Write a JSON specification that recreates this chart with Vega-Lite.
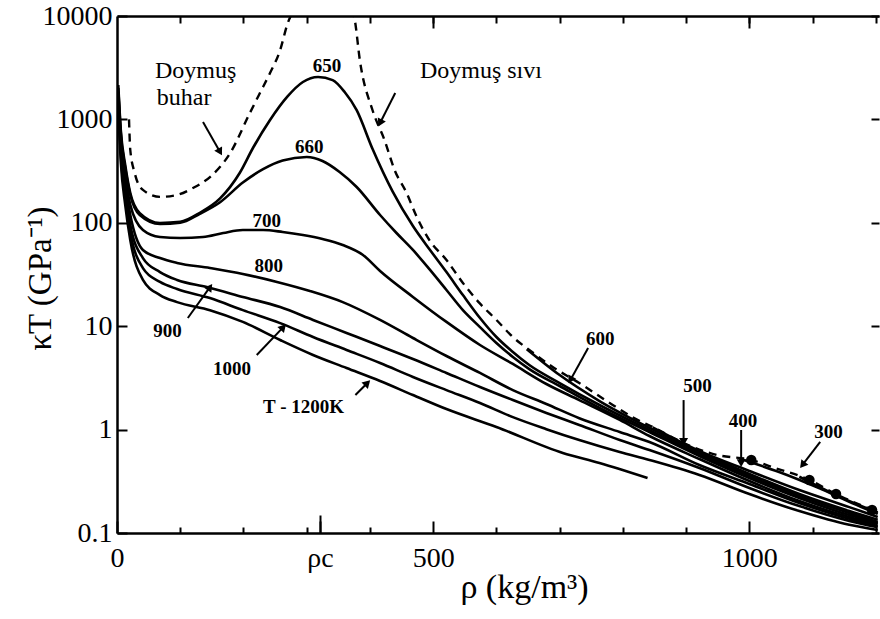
{
  "$schema": "https://vega.github.io/schema/vega-lite/v6.json",
  "width": 762,
  "height": 517,
  "autosize": {"type": "none"},
  "padding": {"left": 117, "top": 16, "right": 1, "bottom": 86},
  "background": "white",
  "config": {
    "view": {"stroke": null},
    "font": "Liberation Serif",
    "axis": {"labelFont": "Liberation Serif", "titleFont": "Liberation Serif", "labelColor": "#000", "titleColor": "#000", "tickColor": "#000", "domainColor": "#000", "grid": false, "labelFontWeight": "normal", "titleFontWeight": "normal", "tickWidth": 2, "domainWidth": 2.5, "labelFlush": false, "labelOverlap": false}
  },
  "datasets": {
    "iso": [
      {"T":"650","r":2,"k":2150},{"T":"650","r":6,"k":790},{"T":"650","r":13,"k":362},{"T":"650","r":21,"k":194},{"T":"650","r":36,"k":124},{"T":"650","r":68,"k":99.5},{"T":"650","r":100,"k":102},{"T":"650","r":131,"k":125},{"T":"650","r":163,"k":172},{"T":"650","r":194,"k":303},{"T":"650","r":215,"k":529},{"T":"650","r":242,"k":987},{"T":"650","r":269,"k":1650},{"T":"650","r":294,"k":2300},{"T":"650","r":318,"k":2570},{"T":"650","r":341,"k":2400},{"T":"650","r":360,"k":1840},{"T":"650","r":379,"k":1230},{"T":"650","r":404,"k":520},{"T":"650","r":436,"k":200},{"T":"650","r":468,"k":93},{"T":"650","r":495,"k":54.6},{"T":"650","r":521,"k":33.4},{"T":"650","r":547,"k":20},{"T":"650","r":574,"k":12},{"T":"650","r":600,"k":7.86},{"T":"650","r":626,"k":5.63},{"T":"650","r":652,"k":4.21},{"T":"650","r":700,"k":2.82},{"T":"650","r":763,"k":1.73},{"T":"650","r":842,"k":0.99},{"T":"650","r":921,"k":0.581},{"T":"650","r":1000,"k":0.356},{"T":"650","r":1079,"k":0.228},{"T":"650","r":1158,"k":0.156},{"T":"650","r":1203,"k":0.128},
      {"T":"660","r":2,"k":2010},{"T":"660","r":6,"k":739},{"T":"660","r":13,"k":339},{"T":"660","r":21,"k":186},{"T":"660","r":36,"k":119},{"T":"660","r":68,"k":97.4},{"T":"660","r":100,"k":100},{"T":"660","r":131,"k":122},{"T":"660","r":163,"k":158},{"T":"660","r":199,"k":245},{"T":"660","r":231,"k":330},{"T":"660","r":262,"k":400},{"T":"660","r":300,"k":433},{"T":"660","r":325,"k":396},{"T":"660","r":352,"k":310},{"T":"660","r":379,"k":222},{"T":"660","r":416,"k":119},{"T":"660","r":442,"k":79.7},{"T":"660","r":468,"k":54.6},{"T":"660","r":495,"k":35},{"T":"660","r":521,"k":22.4},{"T":"660","r":547,"k":14.3},{"T":"660","r":574,"k":9.8},{"T":"660","r":600,"k":6.88},{"T":"660","r":626,"k":5.04},{"T":"660","r":652,"k":3.85},{"T":"660","r":700,"k":2.64},{"T":"660","r":763,"k":1.62},{"T":"660","r":842,"k":0.948},{"T":"660","r":921,"k":0.556},{"T":"660","r":1000,"k":0.34},{"T":"660","r":1079,"k":0.218},{"T":"660","r":1158,"k":0.149},{"T":"660","r":1203,"k":0.125},
      {"T":"700","r":2,"k":1840},{"T":"700","r":6,"k":661},{"T":"700","r":13,"k":290},{"T":"700","r":21,"k":149},{"T":"700","r":41,"k":85.2},{"T":"700","r":68,"k":72.9},{"T":"700","r":100,"k":71.3},{"T":"700","r":136,"k":72.9},{"T":"700","r":168,"k":79.7},{"T":"700","r":199,"k":85.2},{"T":"700","r":231,"k":85.2},{"T":"700","r":262,"k":81.5},{"T":"700","r":294,"k":76.2},{"T":"700","r":325,"k":69.7},{"T":"700","r":357,"k":61},{"T":"700","r":389,"k":48.8},{"T":"700","r":416,"k":34.2},{"T":"700","r":468,"k":19.2},{"T":"700","r":521,"k":11},{"T":"700","r":574,"k":6.58},{"T":"700","r":626,"k":4.31},{"T":"700","r":679,"k":2.76},{"T":"700","r":731,"k":1.93},{"T":"700","r":795,"k":1.24},{"T":"700","r":842,"k":0.867},{"T":"700","r":921,"k":0.519},{"T":"700","r":1000,"k":0.318},{"T":"700","r":1079,"k":0.204},{"T":"700","r":1158,"k":0.143},{"T":"700","r":1203,"k":0.122},
      {"T":"800","r":2,"k":1680},{"T":"800","r":6,"k":565},{"T":"800","r":13,"k":232},{"T":"800","r":21,"k":119},{"T":"800","r":41,"k":54.6},{"T":"800","r":68,"k":45.6},{"T":"800","r":95,"k":40.9},{"T":"800","r":147,"k":36.5},{"T":"800","r":199,"k":32},{"T":"800","r":253,"k":26.8},{"T":"800","r":305,"k":21.9},{"T":"800","r":357,"k":17.1},{"T":"800","r":416,"k":11.5},{"T":"800","r":468,"k":7.69},{"T":"800","r":521,"k":5.15},{"T":"800","r":574,"k":3.53},{"T":"800","r":626,"k":2.41},{"T":"800","r":679,"k":1.77},{"T":"800","r":731,"k":1.29},{"T":"800","r":795,"k":0.948},{"T":"800","r":842,"k":0.759},{"T":"800","r":921,"k":0.455},{"T":"800","r":1000,"k":0.298},{"T":"800","r":1079,"k":0.195},{"T":"800","r":1158,"k":0.137},{"T":"800","r":1203,"k":0.117},
      {"T":"900","r":2,"k":1540},{"T":"900","r":6,"k":506},{"T":"900","r":13,"k":199},{"T":"900","r":21,"k":95.2},{"T":"900","r":41,"k":45.6},{"T":"900","r":68,"k":33.4},{"T":"900","r":95,"k":28},{"T":"900","r":142,"k":23.9},{"T":"900","r":199,"k":19.2},{"T":"900","r":258,"k":15.3},{"T":"900","r":310,"k":11.5},{"T":"900","r":363,"k":8.6},{"T":"900","r":416,"k":6.43},{"T":"900","r":468,"k":4.82},{"T":"900","r":521,"k":3.53},{"T":"900","r":574,"k":2.58},{"T":"900","r":626,"k":1.93},{"T":"900","r":679,"k":1.45},{"T":"900","r":731,"k":1.11},{"T":"900","r":795,"k":0.793},{"T":"900","r":842,"k":0.635},{"T":"900","r":921,"k":0.425},{"T":"900","r":1000,"k":0.272},{"T":"900","r":1079,"k":0.182},{"T":"900","r":1158,"k":0.131},{"T":"900","r":1203,"k":0.114},
      {"T":"1000","r":2,"k":1410},{"T":"1000","r":6,"k":453},{"T":"1000","r":13,"k":174},{"T":"1000","r":21,"k":81.5},{"T":"1000","r":41,"k":36.5},{"T":"1000","r":68,"k":26.8},{"T":"1000","r":95,"k":22.9},{"T":"1000","r":147,"k":18.7},{"T":"1000","r":199,"k":14.3},{"T":"1000","r":258,"k":10.7},{"T":"1000","r":310,"k":7.86},{"T":"1000","r":363,"k":5.89},{"T":"1000","r":416,"k":4.41},{"T":"1000","r":468,"k":3.23},{"T":"1000","r":521,"k":2.41},{"T":"1000","r":574,"k":1.81},{"T":"1000","r":626,"k":1.32},{"T":"1000","r":679,"k":1.01},{"T":"1000","r":731,"k":0.793},{"T":"1000","r":795,"k":0.607},{"T":"1000","r":842,"k":0.508},{"T":"1000","r":921,"k":0.364},{"T":"1000","r":1000,"k":0.238},{"T":"1000","r":1079,"k":0.163},{"T":"1000","r":1158,"k":0.12},{"T":"1000","r":1203,"k":0.107},
      {"T":"1200","r":2,"k":1230},{"T":"1200","r":6,"k":387},{"T":"1200","r":13,"k":149},{"T":"1200","r":21,"k":68.2},{"T":"1200","r":41,"k":28},{"T":"1200","r":68,"k":20},{"T":"1200","r":95,"k":17.1},{"T":"1200","r":147,"k":14.3},{"T":"1200","r":199,"k":11},{"T":"1200","r":258,"k":7.35},{"T":"1200","r":310,"k":5.27},{"T":"1200","r":363,"k":3.94},{"T":"1200","r":416,"k":2.95},{"T":"1200","r":468,"k":2.16},{"T":"1200","r":521,"k":1.58},{"T":"1200","r":600,"k":1.06},{"T":"1200","r":705,"k":0.594},{"T":"1200","r":763,"k":0.475},{"T":"1200","r":839,"k":0.34},
      {"T":"600","r":648,"k":6.0},{"T":"600","r":700,"k":3.37},{"T":"600","r":763,"k":1.89},{"T":"600","r":842,"k":1.04},{"T":"600","r":921,"k":0.607},{"T":"600","r":1000,"k":0.372},{"T":"600","r":1079,"k":0.238},{"T":"600","r":1158,"k":0.163},{"T":"600","r":1203,"k":0.134},
      {"T":"500","r":847,"k":1.05},{"T":"500","r":921,"k":0.621},{"T":"500","r":1000,"k":0.398},{"T":"500","r":1079,"k":0.26},{"T":"500","r":1158,"k":0.178},{"T":"500","r":1203,"k":0.143},
      {"T":"400","r":984,"k":0.525},{"T":"400","r":1047,"k":0.389},{"T":"400","r":1111,"k":0.27},{"T":"400","r":1158,"k":0.2},{"T":"400","r":1203,"k":0.153},
      {"T":"300","r":1079,"k":0.35},{"T":"300","r":1142,"k":0.225},{"T":"300","r":1203,"k":0.158}
    ],
    "sat": [
      {"s":"buhar","r":19,"k":1000},{"s":"buhar","r":21,"k":506},{"s":"buhar","r":28,"k":303},{"s":"buhar","r":41,"k":208},{"s":"buhar","r":68,"k":178},{"s":"buhar","r":95,"k":186},{"s":"buhar","r":120,"k":217},{"s":"buhar","r":147,"k":277},{"s":"buhar","r":179,"k":473},{"s":"buhar","r":210,"k":1150},{"s":"buhar","r":226,"k":1800},{"s":"buhar","r":242,"k":2810},{"s":"buhar","r":258,"k":4690},{"s":"buhar","r":269,"k":8180},{"s":"buhar","r":281,"k":12770},{"s":"buhar","r":300,"k":60000},
      {"s":"sivi","r":360,"k":40000},{"s":"sivi","r":372,"k":11430},{"s":"sivi","r":376,"k":9150},{"s":"sivi","r":384,"k":3750},{"s":"sivi","r":404,"k":1233},{"s":"sivi","r":423,"k":632},{"s":"sivi","r":439,"k":324},{"s":"sivi","r":458,"k":194},{"s":"sivi","r":474,"k":114},{"s":"sivi","r":494,"k":68},{"s":"sivi","r":521,"k":43.7},{"s":"sivi","r":547,"k":26.2},{"s":"sivi","r":573,"k":16.8},{"s":"sivi","r":600,"k":11.5},{"s":"sivi","r":626,"k":7.86},{"s":"sivi","r":652,"k":5.89},{"s":"sivi","r":689,"k":4.03},{"s":"sivi","r":731,"k":2.82},{"s":"sivi","r":784,"k":1.73},{"s":"sivi","r":815,"k":1.32},{"s":"sivi","r":847,"k":1.06},{"s":"sivi","r":910,"k":0.68},{"s":"sivi","r":948,"k":0.57},{"s":"sivi","r":1003,"k":0.508},{"s":"sivi","r":1036,"k":0.434},{"s":"sivi","r":1095,"k":0.326},{"s":"sivi","r":1137,"k":0.238},{"s":"sivi","r":1195,"k":0.167}
    ],
    "dots": [
      {"r":1003,"k":0.508},{"r":1095,"k":0.326},{"r":1137,"k":0.238},{"r":1194,"k":0.167}
    ],
    "names": [
      {"txt":"Doymuş","r":60,"k":2513},{"txt":"buhar","r":63,"k":1378},{"txt":"Doymuş sıvı","r":479,"k":2513}
    ],
    "temps": [
      {"txt":"650","r":332,"k":2873},{"txt":"660","r":304,"k":473},{"txt":"700","r":237,"k":91.1},{"txt":"800","r":240,"k":33.4},{"txt":"900","r":80,"k":7.86},{"txt":"1000","r":182,"k":3.37},{"txt":"T - 1200K","r":295,"k":1.45},{"txt":"600","r":764,"k":6.58},{"txt":"500","r":918,"k":2.31},{"txt":"400","r":990,"k":1.06},{"txt":"300","r":1125,"k":0.829}
    ],
    "arrows": [
      {"r":136,"k":944,"r2":163,"k2":484,"dir":150.5},
      {"r":440,"k":1800,"r2":416,"k2":923,"dir":206.6},
      {"r":112,"k":12.0,"r2":147,"k2":23.9,"dir":35.4},
      {"r":221,"k":5.27,"r2":263,"k2":9.8,"dir":42.9},
      {"r":377,"k":2.16,"r2":396,"k2":2.82,"dir":45},
      {"r":745,"k":6.15,"r2":717,"k2":3.02,"dir":209.4},
      {"r":896,"k":1.93,"r2":896,"k2":0.759,"dir":180},
      {"r":987,"k":0.991,"r2":987,"k2":0.475,"dir":180},
      {"r":1112,"k":0.759,"r2":1084,"k2":0.455,"dir":218}
    ]
  },
  "layer": [
    {
      "data": {"name": "iso"},
      "mark": {"type": "line", "color": "#000", "strokeWidth": 2.6, "interpolate": "monotone", "clip": true},
      "encoding": {
        "x": {"field": "r", "type": "quantitative", "scale": {"type": "linear", "domain": [0, 1205], "nice": false, "zero": false},
          "axis": {"orient": "bottom", "values": [0, 321, 500, 1000], "labelExpr": "datum.value == 321 ? 'ρc' : format(datum.value, 'd')", "tickSize": -12, "labelPadding": 23, "labelFontSize": 28, "labelBaseline": "top", "title": "ρ (kg/m³)", "titleFontSize": 34, "titleX": 407, "titleY": 64, "titleBaseline": "alphabetic", "titleAlign": "center", "titleAnchor": null}},
        "y": {"field": "k", "type": "quantitative", "scale": {"type": "log", "domain": [0.1, 10000], "nice": false},
          "axis": {"orient": "left", "values": [0.1, 1, 10, 100, 1000, 10000], "labelExpr": "datum.value < 1 ? '0.1' : format(datum.value, 'd')", "tickSize": -10, "labelPadding": 15, "labelFontSize": 28, "title": "κT (GPa⁻¹)", "titleFontSize": 33, "titleAngle": -90, "titleX": -67, "titleY": 262, "titleBaseline": "alphabetic", "titleAlign": "center", "titleAnchor": null}},
        "detail": {"field": "T"}
      }
    },
    {
      "data": {"name": "sat"},
      "mark": {"type": "line", "color": "#000", "strokeWidth": 2.4, "strokeDash": [8, 6], "interpolate": "monotone", "clip": true},
      "encoding": {
        "x": {"field": "r", "type": "quantitative", "scale": {"type": "linear", "domain": [0, 1205], "nice": false, "zero": false},
          "axis": {"orient": "bottom", "values": [321], "tickSize": -18, "labels": false, "domain": false, "title": null}},
        "y": {"field": "k", "type": "quantitative", "scale": {"type": "log", "domain": [0.1, 10000], "nice": false},
          "axis": {"orient": "right", "values": [0.1, 1, 10, 100, 1000, 10000], "tickSize": -8, "labels": false, "domain": false, "title": null}},
        "detail": {"field": "s"}
      }
    },
    {
      "data": {"name": "dots"},
      "mark": {"type": "point", "filled": true, "color": "#000", "size": 110, "opacity": 1},
      "encoding": {
        "x": {"field": "r", "type": "quantitative", "scale": {"type": "linear", "domain": [0, 1205], "nice": false, "zero": false},
          "axis": {"orient": "top", "values": [100, 200, 300, 400, 500, 600, 700, 800, 900, 1000, 1100, 1200], "tickSize": -7, "labels": false, "domain": true, "title": null}},
        "y": {"field": "k", "type": "quantitative", "scale": {"type": "log", "domain": [0.1, 10000], "nice": false}, "axis": null}
      }
    },
    {
      "data": {"name": "temps"},
      "mark": {"type": "text", "font": "Liberation Serif", "fontSize": 19, "fontWeight": "bold", "align": "center", "baseline": "alphabetic", "color": "#000"},
      "encoding": {
        "x": {"field": "r", "type": "quantitative", "scale": {"type": "linear", "domain": [0, 1205], "nice": false, "zero": false},
          "axis": {"orient": "bottom", "values": [100, 200, 300, 400, 600, 700, 800, 900, 1100, 1200], "tickSize": -6, "labels": false, "domain": false, "title": null}},
        "y": {"field": "k", "type": "quantitative", "scale": {"type": "log", "domain": [0.1, 10000], "nice": false}, "axis": null},
        "text": {"field": "txt"}
      }
    },
    {
      "data": {"name": "names"},
      "mark": {"type": "text", "font": "Liberation Serif", "fontSize": 24, "align": "left", "baseline": "alphabetic", "color": "#000"},
      "encoding": {
        "x": {"field": "r", "type": "quantitative", "scale": {"type": "linear", "domain": [0, 1205], "nice": false, "zero": false},
          "axis": {"orient": "top", "values": [500, 1000], "tickSize": -12, "labels": false, "domain": false, "title": null}},
        "y": {"field": "k", "type": "quantitative", "scale": {"type": "log", "domain": [0.1, 10000], "nice": false}, "axis": null},
        "text": {"field": "txt"}
      }
    },
    {
      "data": {"name": "arrows"},
      "mark": {"type": "rule", "color": "#000", "strokeWidth": 2},
      "encoding": {
        "x": {"field": "r", "type": "quantitative", "scale": {"type": "linear", "domain": [0, 1205], "nice": false, "zero": false}, "axis": null},
        "y": {"field": "k", "type": "quantitative", "scale": {"type": "log", "domain": [0.1, 10000], "nice": false}, "axis": null},
        "x2": {"field": "r2"},
        "y2": {"field": "k2"}
      }
    },
    {
      "data": {"name": "arrows"},
      "mark": {"type": "point", "shape": "triangle-up", "filled": true, "color": "#000", "fill": "#000", "size": 80, "opacity": 1, "strokeWidth": 0},
      "encoding": {
        "x": {"field": "r2", "type": "quantitative", "scale": {"type": "linear", "domain": [0, 1205], "nice": false, "zero": false}, "axis": null},
        "y": {"field": "k2", "type": "quantitative", "scale": {"type": "log", "domain": [0.1, 10000], "nice": false}, "axis": null},
        "angle": {"field": "dir", "type": "quantitative", "scale": null}
      }
    }
  ],
  "resolve": {"axis": {"x": "independent", "y": "independent"}}
}
